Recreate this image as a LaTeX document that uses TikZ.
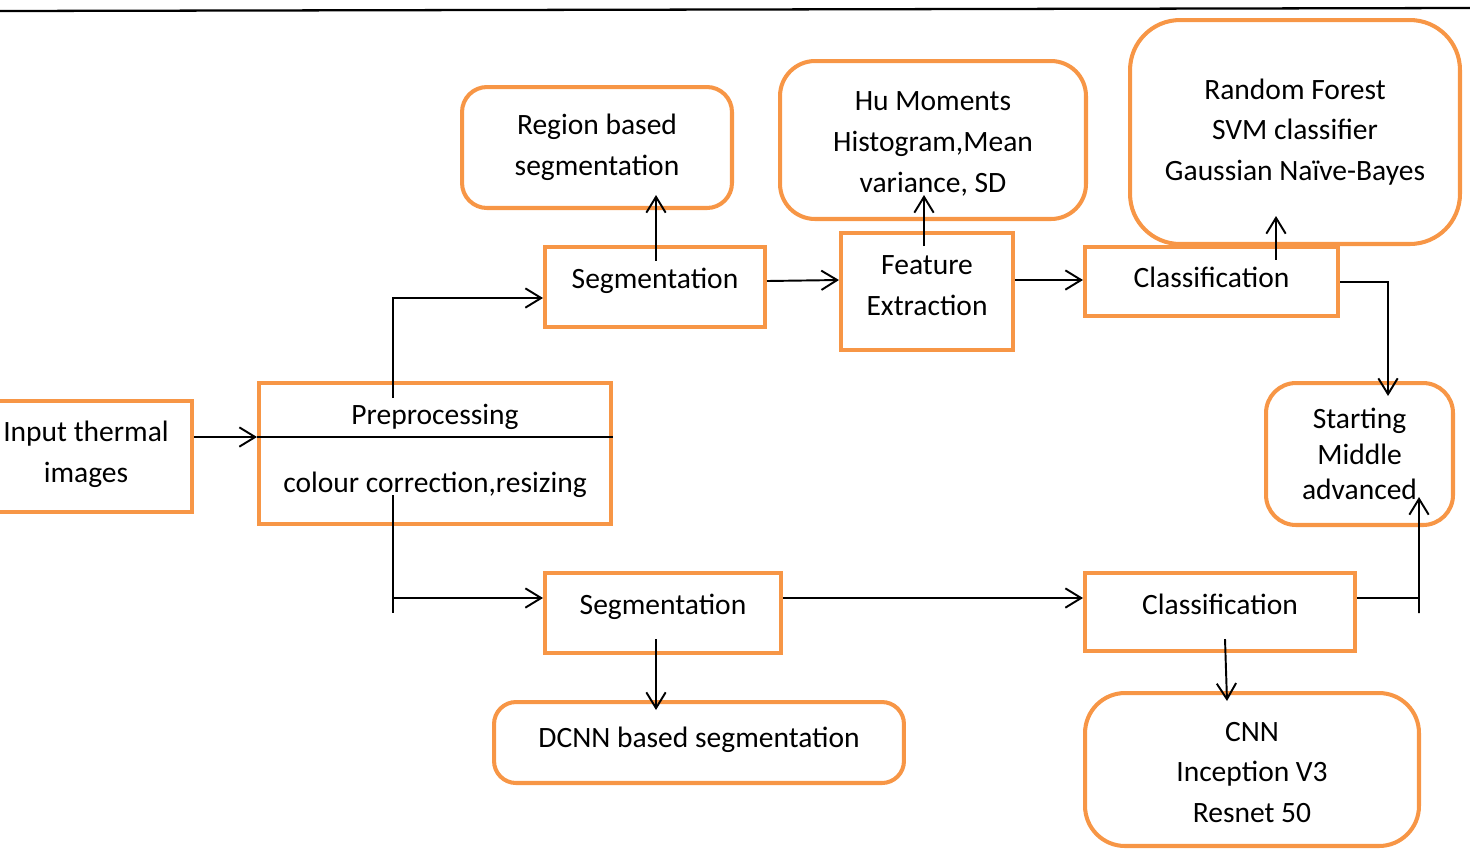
\documentclass[tikz,border=0pt]{standalone}
\usepackage{fontspec}
\setmainfont{Carlito}
\usetikzlibrary{arrows.meta,calc}
\definecolor{orng}{HTML}{F79646}
\newcommand\upby[2]{\raisebox{#1}[\height][\depth]{#2}}
\begin{document}
\begin{tikzpicture}[x=0.02cm,y=-0.02cm,
  box/.style={draw=orng,line width=2.3pt,inner sep=0pt,align=center,font=\fontsize{16.8}{23.2}\selectfont},
  rbox/.style={box,rounded corners=#1},
  txt/.style={inner sep=0pt,font=\fontsize{16.8}{23.2}\selectfont},
  arr/.style={line width=1.1pt,-{Straight Barb[length=9pt,width=11pt,line width=1.1pt]}},
  ln/.style={line width=1.1pt}]
\useasboundingbox (0,0) rectangle (1470,850);
\draw[line width=1.3pt] (0,11) -- (1470,8);
% boxes
\node[box,minimum width=4.24cm,minimum height=2.22cm] (inp) at (86,456.5) {\upby{1.1pt}{Input thermal}\\\upby{1.1pt}{images}};
\node[box,minimum width=7.04cm,minimum height=2.82cm] (prep) at (435,453.5) {};
\node[txt] (preptitle) at (435,417) {Preprocessing};
\node[txt] (prepsub) at (435,485) {colour correction,resizing};
\node[box,minimum width=4.4cm,minimum height=1.6cm] (seg1) at (655,287) {\upby{3.4pt}{Segmentation}};
\node[rbox=0.5cm,minimum width=5.4cm,minimum height=2.42cm] (reg) at (597,147.5) {Region based\\segmentation};
\node[box,minimum width=3.44cm,minimum height=2.34cm] (feat) at (927,291.5) {\upby{3.4pt}{Feature}\\\upby{3.4pt}{Extraction}};
\node[rbox=0.7cm,minimum width=6.12cm,minimum height=3.16cm] (hu) at (933,140) {\upby{-2.3pt}{Hu Moments}\\\upby{-2.3pt}{Histogram,Mean}\\\upby{-2.3pt}{variance, SD}};
\node[box,minimum width=5.06cm,minimum height=1.38cm] (cls1) at (1211.5,281.5) {\upby{2.3pt}{Classification}};
\node[rbox=1cm,minimum width=6.6cm,minimum height=4.48cm] (rf) at (1295,132) {Random Forest\\SVM classifier\\Gaussian Naïve-Bayes};
\node[rbox=0.6cm,minimum width=3.74cm,minimum height=2.84cm,font=\fontsize{16.8}{20.4}\selectfont] (start) at (1359.5,454) {Starting\\Middle\\advanced};
\node[box,minimum width=4.72cm,minimum height=1.6cm] (seg2) at (663,613) {\upby{3.4pt}{Segmentation}};
\node[rbox=0.44cm,minimum width=8.2cm,minimum height=1.62cm] (dcnn) at (699,742.5) {\upby{1.7pt}{DCNN based segmentation}};
\node[box,minimum width=5.4cm,minimum height=1.56cm] (cls2) at (1220,612) {\upby{4.5pt}{Classification}};
\node[rbox=0.8cm,minimum width=6.68cm,minimum height=3.06cm] (cnn) at (1252,769.5) {\upby{-1.7pt}{CNN}\\\upby{-1.7pt}{Inception V3}\\\upby{-1.7pt}{Resnet 50}};
% divider
\draw[ln] (prep.west |- 0,437) -- (prep.east |- 0,437);
% connectors
\draw[arr] (inp.east |- 0,437) -- (prep.west |- 0,437);
\coordinate (pu) at (393,398);
\coordinate (pd) at (393,495);
\draw[arr] (pu) -- (393,298) -- (seg1.west |- 0,298);
\draw[ln] (pd) -- (393,613);
\draw[arr] (393,598) -- (seg2.west |- 0,598);
\draw[arr] ($(seg1.north)+(1,16)$) -- ($(reg.south)+(59,-15)$);
\draw[arr] (seg1.east |- 0,281) -- (feat.west |- 0,280);
\draw[arr] ($(feat.north)+(-3,15)$) -- ($(hu.south)+(-9,-26)$);
\draw[arr] (feat.east |- 0,280) -- (cls1.west |- 0,280);
\draw[arr] ($(cls1.north)+(64.5,15)$) -- ($(rf.south)+(-19,-30)$);
\draw[arr] (cls1.east |- 0,282) -- (1388,282) -- ($(start.north)+(28.5,15)$);
\draw[arr] (seg2.east |- 0,598) -- (cls2.west |- 0,598);
\draw[arr] ($(seg2.south)+(-7,-16)$) -- ($(dcnn.north)+(-43,10)$);
\draw[arr] ($(cls2.south)+(5,-14)$) -- ($(cnn.north)+(-25,10)$);
\draw[ln] (cls2.east |- 0,598) -- (1419,598);
\draw[arr] (1419,613) -- ($(start.south)+(59.5,-30)$);
\end{tikzpicture}
\end{document}
